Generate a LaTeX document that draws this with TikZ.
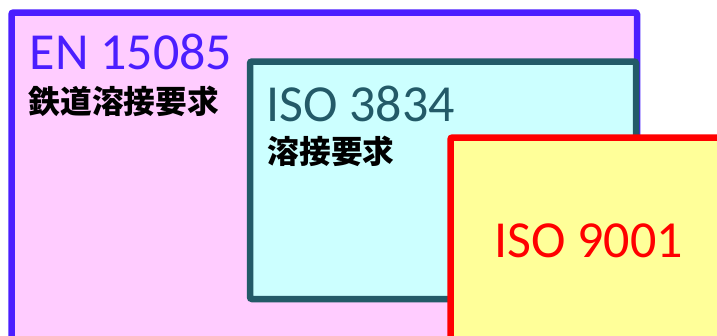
\documentclass[tikz,border=0pt]{standalone}
\usepackage{fontspec}
\setmainfont{Carlito}
\newfontfamily\jpfont{Noto Sans CJK JP}
\definecolor{enblue}{HTML}{4B1EFF}
\definecolor{enfill}{HTML}{FFCCFF}
\definecolor{isoteal}{HTML}{235A68}
\definecolor{isofill}{HTML}{CCFFFF}
\definecolor{qred}{HTML}{FF0000}
\definecolor{qfill}{HTML}{FFFF99}
\tikzset{
  stdbox/.style={line width=6.5pt, rounded corners=2pt},
  bigtxt/.style={inner sep=0pt, anchor=base west, font=\fontsize{52}{52}\selectfont},
  jptxt/.style={inner sep=0pt, anchor=west, font=\jpfont\bfseries\fontsize{31.7}{32}\selectfont},
}
\begin{document}
\begin{tikzpicture}[x=1pt, y=-1pt]
\useasboundingbox (0,0) rectangle (717,335);
\clip (0,0) rectangle (717,335);
\draw[stdbox, draw=enblue, fill=enfill] (11.5,12.5) rectangle (637,360);
\node[bigtxt, text=enblue] (en) at (29.5,69.5) {EN 15085};
\node[jptxt] (enjp) at (28.5,101) {鉄道溶接要求};
\draw[stdbox, draw=isoteal, fill=isofill] (250,61.5) rectangle (636,299);
\node[bigtxt, text=isoteal] (iso3834) at (266,121) {ISO 3834};
\node[jptxt] (isojp) at (267.5,151.5) {溶接要求};
\draw[stdbox, draw=qred, fill=qfill] (450.5,137.5) rectangle (740,360);
\node[bigtxt, text=qred] (iso9001) at (494,257) {ISO 9001};
\end{tikzpicture}
\end{document}
